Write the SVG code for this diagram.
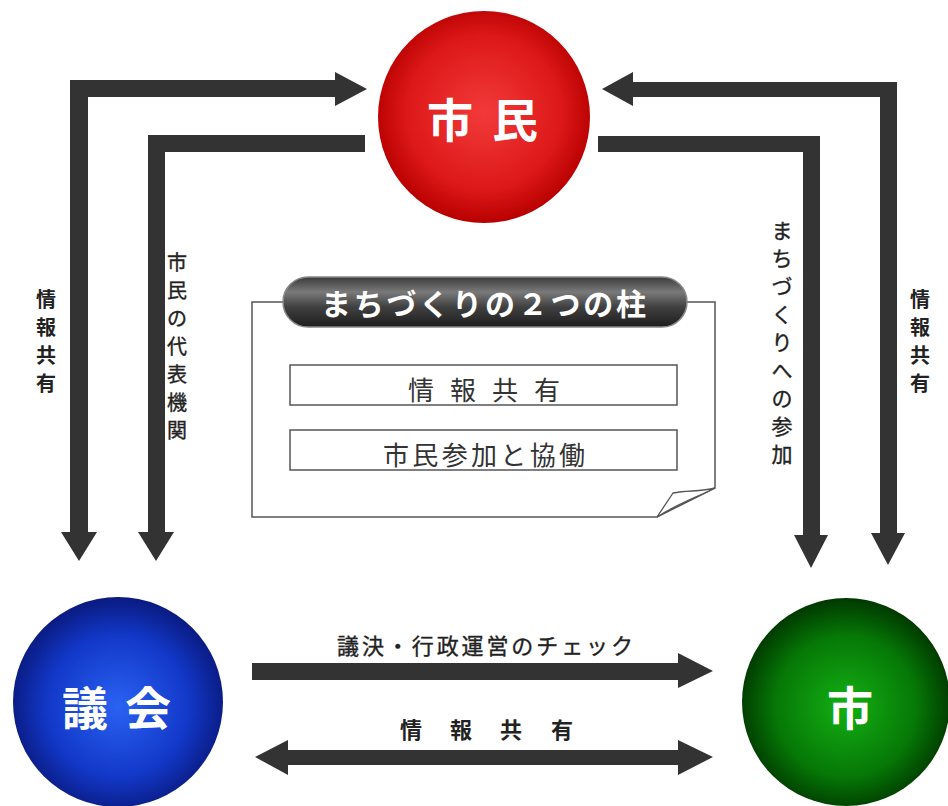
<svg xmlns="http://www.w3.org/2000/svg" width="948" height="806" viewBox="0 0 948 806">
<defs>
<radialGradient id="gRed" cx="50%" cy="48%" r="52%">
<stop offset="0" stop-color="#f23a3a"/><stop offset="0.7" stop-color="#dd1818"/><stop offset="1" stop-color="#b80000"/>
</radialGradient>
<radialGradient id="gBlue" cx="50%" cy="52%" r="52%">
<stop offset="0" stop-color="#2a62f2"/><stop offset="0.65" stop-color="#1238c8"/><stop offset="1" stop-color="#0a1a80"/>
</radialGradient>
<radialGradient id="gGreen" cx="50%" cy="52%" r="52%">
<stop offset="0" stop-color="#14b014"/><stop offset="0.65" stop-color="#067806"/><stop offset="1" stop-color="#003800"/>
</radialGradient>
<linearGradient id="gPill" x1="0" y1="0" x2="0" y2="1">
<stop offset="0" stop-color="#3a3a3a"/><stop offset="0.3" stop-color="#7a7a7a"/><stop offset="0.6" stop-color="#404040"/><stop offset="1" stop-color="#1e1e1e"/>
</linearGradient>
<style>
.arr{fill:#333333;}
.lbl{font-family:"Noto Sans CJK JP","Noto Sans",sans-serif;fill:#222;text-anchor:middle;stroke:#222;stroke-width:0.35;}
.lblb{font-family:"Noto Sans CJK JP","Noto Sans",sans-serif;fill:#222;text-anchor:middle;font-weight:bold;}
.node{font-family:"Noto Sans CJK JP","Noto Sans",sans-serif;fill:#ffffff;font-weight:bold;text-anchor:middle;font-size:46px;}
.box{fill:#ffffff;stroke:#555;stroke-width:1.5;}
.thin{font-family:"Noto Sans CJK JP","Noto Sans",sans-serif;fill:#333;text-anchor:middle;}
</style>
</defs>
<rect width="948" height="806" fill="#ffffff"/>

<g id="connectors">
<polygon class="arr" points="70,80 335,80 335,72 367,89 335,106 335,97 88,97 88,532 97,532 79,561 61,532 70,532"/>
<polygon class="arr" points="148,135 365,135 365,152 165,152 165,532 174,532 156,561 138,532 148,532"/>
<polygon class="arr" points="897,82 897,533 905,533 888,565 871,533 880,533 880,97 633,97 633,106 602,89 633,72 633,82"/>
<polygon class="arr" points="598,136 820,136 820,535 828,535 811,568 794,535 803,535 803,152 598,152"/>
<polygon class="arr" points="252,663 678,663 678,653 713,671 678,688 678,680 252,680"/>
<polygon class="arr" points="255,757 288,740 288,750 678,750 678,740 713,757 678,775 678,765 288,765 288,775"/>
<text class="lblb" font-size="20"><tspan x="46" y="307">情</tspan><tspan x="46" y="335">報</tspan><tspan x="46" y="363">共</tspan><tspan x="46" y="391">有</tspan></text>
<text class="lbl" font-size="20"><tspan x="177" y="270">市</tspan><tspan x="177" y="298">民</tspan><tspan x="177" y="326">の</tspan><tspan x="177" y="354">代</tspan><tspan x="177" y="382">表</tspan><tspan x="177" y="410">機</tspan><tspan x="177" y="438">関</tspan></text>
<text class="lbl" font-size="21"><tspan x="782" y="238">ま</tspan><tspan x="782" y="266">ち</tspan><tspan x="782" y="294">づ</tspan><tspan x="782" y="322">く</tspan><tspan x="782" y="350">り</tspan><tspan x="782" y="378">へ</tspan><tspan x="782" y="406">の</tspan><tspan x="782" y="434">参</tspan><tspan x="782" y="462">加</tspan></text>
<text class="lblb" font-size="20"><tspan x="920" y="307">情</tspan><tspan x="920" y="335">報</tspan><tspan x="920" y="363">共</tspan><tspan x="920" y="391">有</tspan></text>
<text class="lbl" font-size="22" x="337" y="654" style="text-anchor:start" textLength="296" lengthAdjust="spacing">議決・行政運営のチェック</text>
<text class="lblb" font-size="22"><tspan x="411" y="738">情</tspan><tspan x="461" y="738">報</tspan><tspan x="511" y="738">共</tspan><tspan x="562" y="738">有</tspan></text>
</g>

<g id="pillars">
<path class="box" d="M252,302 H715 V488 L657,517 H252 Z"/>
<path fill="#ffffff" stroke="#555" stroke-width="1.3" d="M657,517 L673,493 C688,490 700,492 715,488 C695,498 675,505 657,517 Z"/>
<rect x="283" y="277" width="404" height="50" rx="25" ry="25" fill="url(#gPill)" stroke="#888" stroke-width="1.5"/>
<text x="321" y="315" font-family="Noto Sans CJK JP, Noto Sans, sans-serif" font-size="30" font-weight="bold" fill="#ffffff" textLength="325" lengthAdjust="spacing">まちづくりの２つの柱</text>
<rect class="box" x="290" y="365" width="387" height="40"/>
<rect class="box" x="290" y="430" width="387" height="40"/>
<text class="thin" font-size="26"><tspan x="421" y="400">情</tspan><tspan x="463" y="400">報</tspan><tspan x="505" y="400">共</tspan><tspan x="547" y="400">有</tspan></text>
<text class="thin" font-size="26" x="383" y="465" style="text-anchor:start" textLength="202" lengthAdjust="spacing">市民参加と協働</text>
</g>

<g id="shimin">
<circle cx="484" cy="117" r="106" fill="url(#gRed)"/>
<text class="node"><tspan x="450" y="137">市</tspan><tspan x="515" y="137">民</tspan></text>
</g>

<g id="gikai">
<circle cx="118" cy="702" r="105" fill="url(#gBlue)"/>
<text class="node"><tspan x="85" y="725">議</tspan><tspan x="148" y="725">会</tspan></text>
</g>

<g id="shi">
<circle cx="846" cy="702" r="104" fill="url(#gGreen)"/>
<text class="node" x="850" y="725">市</text>
</g>
</svg>
